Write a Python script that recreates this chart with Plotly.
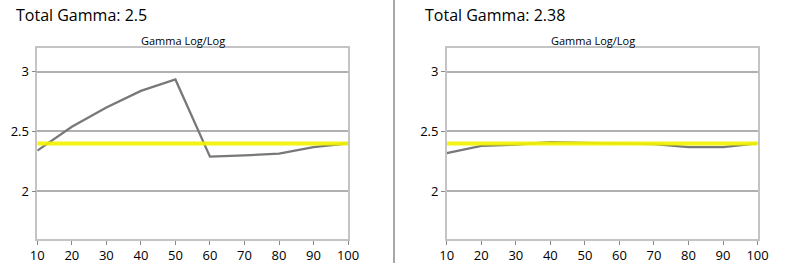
import plotly.graph_objects as go

W, H = 792, 264

x_levels = [10, 20, 30, 40, 50, 60, 70, 80, 90, 100]
gamma_left = [2.34, 2.54, 2.70, 2.84, 2.935, 2.29, 2.30, 2.315, 2.37, 2.40]
gamma_right = [2.32, 2.38, 2.39, 2.41, 2.405, 2.40, 2.395, 2.37, 2.37, 2.40]
target_gamma = 2.4
titles = ["Total Gamma: 2.5", "Total Gamma: 2.38"]
subtitle = "Gamma Log/Log"
y_ticks = [2, 2.5, 3]
y_tick_text = ["2", "2.5", "3"]

FONT = "Segoe UI, Open Sans, Noto Sans, sans-serif"

fig = go.Figure()

domains = [(31 / W, 349 / W), (450 / W, 768 / W)]
ydom = (1 - 240 / H, 1 - 48 / H)

for i, (series, dom) in enumerate(zip([gamma_left, gamma_right], domains)):
    xa = "x" if i == 0 else "x2"
    ya = "y" if i == 0 else "y2"
    fig.add_trace(go.Scatter(x=x_levels, y=series, mode="lines",
                             line=dict(color="#787878", width=2.3),
                             xaxis=xa, yaxis=ya, showlegend=False))
    fig.add_trace(go.Scatter(x=[x_levels[0], x_levels[-1]], y=[target_gamma, target_gamma],
                             mode="lines", line=dict(color="#f2f200", width=4), opacity=0.92,
                             xaxis=xa, yaxis=ya, showlegend=False, hoverinfo="skip"))
    axis_common = dict(showline=True, linecolor="#c4c4c4", linewidth=1.5, mirror=True,
                       ticks="outside", ticklen=4, tickcolor="#888888",
                       tickfont=dict(family=FONT, size=13, color="#000000"), zeroline=False)
    xkey = "xaxis" if i == 0 else "xaxis2"
    ykey = "yaxis" if i == 0 else "yaxis2"
    fig.update_layout(**{
        xkey: dict(domain=list(dom), range=[10, 100], tickvals=x_levels, showgrid=False,
                   anchor=ya, **axis_common),
        ykey: dict(domain=list(ydom), range=[1.6, 3.2], tickvals=y_ticks, ticktext=y_tick_text,
                   showgrid=True, gridcolor="#b0b0b0", gridwidth=1.5, anchor=xa, **axis_common),
    })
    fig.add_annotation(text=titles[i], x=(7 if i == 0 else 426) / W, y=1 - 15 / H,
                       xref="paper", yref="paper", xanchor="left", yanchor="middle",
                       showarrow=False, font=dict(family=FONT, size=16, color="#000000"))
    fig.add_annotation(text=subtitle, x=((dom[0] + dom[1]) / 2) - 9.5 / W, y=1 - 41 / H,
                       xref="paper", yref="paper", xanchor="center", yanchor="middle",
                       showarrow=False, font=dict(family=FONT, size=11, color="#000000"))

fig.add_shape(type="line", x0=396 / W, x1=396 / W, y0=0, y1=1, xref="paper", yref="paper",
              line=dict(color="#a8a8a8", width=2))

fig.update_layout(width=W, height=H, margin=dict(l=0, r=0, t=0, b=0),
                  paper_bgcolor="white", plot_bgcolor="white")

fig.write_html("out.html")
